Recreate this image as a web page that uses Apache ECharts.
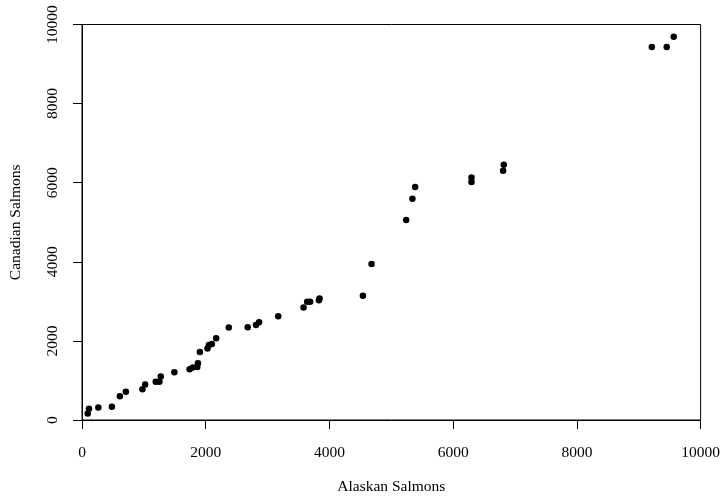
<!DOCTYPE html>
<html>
<head>
<meta charset="utf-8">
<script src="https://cdn.jsdelivr.net/npm/echarts@6/dist/echarts.min.js"></script>
<style>
  html, body { margin: 0; padding: 0; background: #fff; }
  #chart { width: 723px; height: 500px; }
</style>
</head>
<body>
<div id="chart"></div>
<script>
// salmon counts
const alaskan = [92, 113, 264, 483, 612, 709, 977, 1021, 1192, 1251, 1273, 1493,
  1739, 1788, 1863, 1874, 1906, 2029, 2051, 2099, 2169, 2373, 2679, 2813, 2862, 3172,
  3581, 3640, 3688, 3830, 3840, 4541, 4681, 5240, 5341, 5385, 6296, 6296, 6807, 6818,
  9211, 9452, 9565]
const canadian = [164, 283, 316, 333, 601, 712, 778, 896, 965, 965, 1098, 1207,
  1283, 1326, 1343, 1434, 1722, 1806, 1899, 1924, 2066, 2336, 2343, 2404, 2470, 2621,
  2845, 2990, 2992, 3030, 3070, 3144, 3944, 5056, 5593, 5889, 6015, 6131, 6301, 6452,
  9432, 9432, 9692]
const ticks = [0, 2000, 4000, 6000, 8000, 10000]

const chart = echarts.init(document.getElementById('chart'))
const font = 'Liberation Serif'

const points = alaskan.map((a, i) => [a, canadian[i]])

chart.setOption({
  animation: false,
  backgroundColor: '#fff',
  textStyle: { fontFamily: font },
  grid: {
    left: 82,
    right: 20,
    top: 24.5,
    bottom: 79.5,
    show: true,
    borderColor: '#000',
    borderWidth: 1
  },
  xAxis: {
    type: 'value',
    min: ticks[0],
    max: ticks[ticks.length - 1],
    interval: 2000,
    name: 'Alaskan Salmons',
    nameLocation: 'middle',
    nameGap: 59,
    nameTextStyle: { color: '#000', fontSize: 15.5, fontFamily: font },
    axisLine: { show: true, lineStyle: { color: '#000', width: 1 } },
    axisTick: { show: true, inside: false, length: 9, lineStyle: { color: '#000' } },
    axisLabel: { color: '#000', fontSize: 15.5, fontFamily: font, margin: 25, formatter: v => String(v) },
    splitLine: { show: false }
  },
  yAxis: {
    type: 'value',
    min: ticks[0],
    max: ticks[ticks.length - 1],
    interval: 2000,
    name: 'Canadian Salmons',
    nameLocation: 'middle',
    nameGap: 58,
    nameRotate: 90,
    nameTextStyle: { color: '#000', fontSize: 15.5, fontFamily: font },
    axisLine: { show: true, lineStyle: { color: '#000', width: 1 } },
    axisTick: { show: true, inside: false, length: 9, lineStyle: { color: '#000' } },
    axisLabel: { color: '#000', fontSize: 15.5, fontFamily: font, rotate: 90, margin: 21, formatter: v => String(v) },
    splitLine: { show: false }
  },
  series: [
    {
      type: 'scatter',
      data: points,
      symbol: 'circle',
      symbolSize: 6.5,
      itemStyle: { color: '#000', opacity: 1 }
    }
  ]
})
</script>
</body>
</html>
